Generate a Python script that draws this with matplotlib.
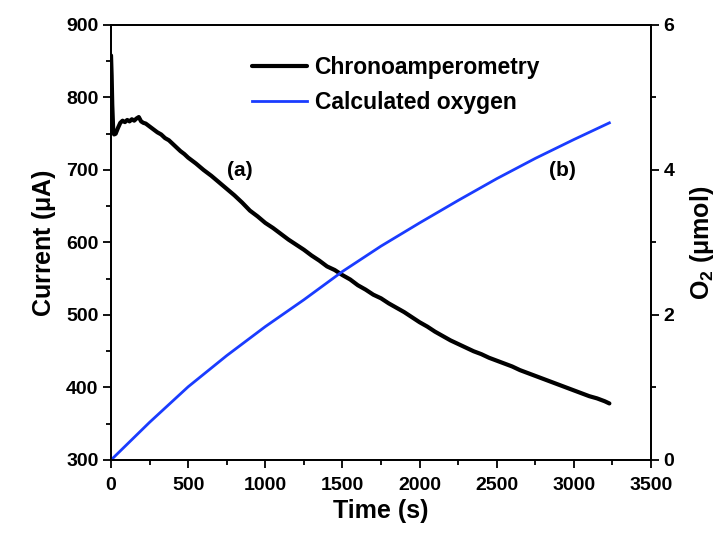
import matplotlib
matplotlib.use("Agg")
import matplotlib.pyplot as plt
from matplotlib.ticker import MultipleLocator

plt.rcParams["font.family"] = ["Liberation Sans", "DejaVu Sans"]
plt.rcParams["font.weight"] = "bold"

# chronoamperometry trace
t_current = [0, 4, 8, 14, 20, 30, 45, 60, 75, 90, 105, 120, 135, 150, 165, 180, 195,
             210, 225, 250, 275, 300, 325, 350, 375, 400, 425, 450, 475, 500,
             550, 600, 650, 700, 750, 800, 850, 900, 950, 1000, 1050, 1100,
             1150, 1200, 1250, 1300, 1350, 1400, 1450, 1500, 1550, 1600, 1650,
             1700, 1750, 1800, 1850, 1900, 1950, 2000, 2050, 2100, 2150, 2200,
             2250, 2300, 2350, 2400, 2450, 2500, 2550, 2600, 2650, 2700, 2750,
             2800, 2850, 2900, 2950, 3000, 3050, 3100, 3150, 3200, 3230]
current = [858, 830, 790, 756, 749, 750, 758, 765, 768, 766, 769, 767, 770, 768,
           771, 773, 767, 765, 764, 760, 756, 752, 749, 744, 741, 736, 731, 726,
           722, 717, 709, 700, 692, 683, 674, 665, 655, 644, 636, 627, 620, 612,
           604, 597, 590, 582, 575, 567, 562, 555, 549, 541, 535, 528, 523, 516,
           510, 504, 497, 490, 484, 477, 471, 465, 460, 455, 450, 446, 441, 437,
           433, 429, 424, 420, 416, 412, 408, 404, 400, 396, 392, 388, 385, 381, 378]

# oxygen calculated from the charge
t_oxygen = [0, 250, 500, 750, 1000, 1250, 1500, 1750, 2000, 2250, 2500, 2750,
            3000, 3230]
oxygen = [0, 0.52, 1.01, 1.44, 1.84, 2.21, 2.60, 2.95, 3.27, 3.58, 3.88, 4.16,
          4.42, 4.65]

fig = plt.figure(figsize=(7.2, 5.36), dpi=100)
ax = fig.add_axes([0.1542, 0.1418, 0.75, 0.8116])
ax2 = ax.twinx()

l1, = ax.plot(t_current, current, color="black", linewidth=3.0,
              solid_joinstyle="round", solid_capstyle="round",
              label="Chronoamperometry")
l2, = ax2.plot(t_oxygen, oxygen, color="#1a3cff", linewidth=2.0,
               label="Calculated oxygen")

ax.set_xlim(0, 3500)
ax.set_ylim(300, 900)
ax2.set_ylim(0, 6)

ax.xaxis.set_major_locator(MultipleLocator(500))
ax.xaxis.set_minor_locator(MultipleLocator(250))
ax.yaxis.set_major_locator(MultipleLocator(100))
ax.yaxis.set_minor_locator(MultipleLocator(50))
ax2.yaxis.set_major_locator(MultipleLocator(2))
ax2.yaxis.set_minor_locator(MultipleLocator(1))

for a in (ax, ax2):
    for s in a.spines.values():
        s.set_linewidth(1.3)
    a.tick_params(which="major", direction="out", length=6, width=1.3,
                  labelsize=14, pad=3)
    a.tick_params(which="minor", direction="out", length=3.5, width=1.3)
ax.tick_params(axis="x", pad=6)

for lab in ax.get_xticklabels() + ax.get_yticklabels() + ax2.get_yticklabels():
    lab.set_fontweight("bold")

ax.set_xlabel("Time (s)", fontsize=18, fontweight="bold", labelpad=4)
ax.set_ylabel("Current ($\\mathregular{\\mu}$A)", fontsize=18,
              fontweight="bold", labelpad=6)
ax2.set_ylabel("O$_\\mathregular{2}$ ($\\mathregular{\\mu}$mol)", fontsize=18,
               fontweight="bold", rotation=90, labelpad=10)

ax.text(836, 699, "(a)", fontsize=15, fontweight="bold", ha="center", va="center")
ax.text(2923, 699, "(b)", fontsize=15, fontweight="bold", ha="center", va="center")

leg = ax.legend(handles=[l1, l2], loc="upper left", bbox_to_anchor=(0.222, 0.975),
                frameon=False, handlelength=2.4, handletextpad=0.35,
                labelspacing=0.5, fontsize=16.5)
for txt in leg.get_texts():
    txt.set_fontweight("bold")

fig.savefig("out.png", dpi=100)
